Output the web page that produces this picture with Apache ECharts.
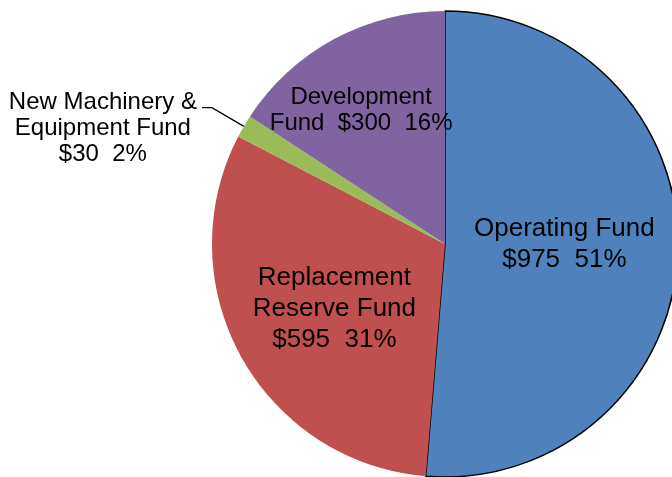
<!DOCTYPE html>
<html>
<head>
<meta charset="utf-8">
<script src="https://cdn.jsdelivr.net/npm/echarts@6/dist/echarts.min.js"></script>
<style>
  html, body { margin: 0; padding: 0; background: #fff; }
  #chart { width: 672px; height: 477px; }
</style>
</head>
<body>
<div id="chart"></div>
<script>
// fund names and amounts ($)
var names = ['Operating Fund', 'Replacement Reserve Fund', 'New Machinery & Equipment Fund', 'Development Fund'];
var amounts = [975, 595, 30, 300];
var percents = [51, 31, 2, 16];
// text lines as printed on the slices
var labelLines = [
  ['Operating Fund'],
  ['Replacement', 'Reserve Fund'],
  ['New Machinery &', 'Equipment Fund'],
  ['Development', 'Fund']
];
var colors = ['#4F81BD', '#C0504D', '#9BBB59', '#8064A2'];

var font = "'Liberation Sans', Arial, sans-serif";

// label sizes and nudges (dx, dy) per slice
var fontSizes = [26, 26, 24, 24];
var lineHeights = [31, 31, 26, 26];
var nudge = [[0, -5], [-6, 7], [0, 0], [-27, -29]];

var myChart = echarts.init(document.getElementById('chart'));

var data = names.map(function (n, i) {
  var item = {
    name: n,
    value: amounts[i],
    itemStyle: { color: colors[i] },
    label: { fontSize: fontSizes[i], lineHeight: lineHeights[i] }
  };
  if (i === 0) {
    item.itemStyle.borderColor = '#000';
    item.itemStyle.borderWidth = 1.5;
  }
  if (i === 2) {
    item.label = {
      position: 'outside',
      padding: [42, 0, 0, 0],
      formatter: function (p) {
        var l = labelLines[p.dataIndex];
        return '{a|' + l[0] + '}\n{a|' + l[1] + '}\n{a|$' + amounts[p.dataIndex] + '  ' + percents[p.dataIndex] + '%}';
      },
      rich: {
        a: { align: 'center', fontSize: fontSizes[i], lineHeight: lineHeights[i], fontFamily: font, color: '#000' }
      }
    };
    item.labelLine = {
      show: true,
      length: 37,
      length2: 10,
      lineStyle: { color: '#000', width: 1.3 }
    };
  }
  return item;
});

var option = {
  animation: false,
  backgroundColor: '#fff',
  series: [{
    type: 'pie',
    center: [445, 244],
    radius: 233,
    startAngle: 90,
    clockwise: true,
    avoidLabelOverlap: false,
    label: {
      show: true,
      position: 'inside',
      color: '#000',
      fontFamily: font,
      formatter: function (p) {
        var i = p.dataIndex;
        var l = labelLines[i];
        var tail = '$' + amounts[i] + '  ' + percents[i] + '%';
        if (i === 3) {
          return l[0] + '\n' + l[1] + '  ' + tail;
        }
        return l.join('\n') + '\n' + tail;
      }
    },
    labelLine: { show: false },
    labelLayout: function (p) {
      var n = nudge[p.dataIndex];
      return { dx: n[0], dy: n[1] };
    },
    emphasis: { disabled: true },
    data: data
  }]
};

myChart.setOption(option);
</script>
</body>
</html>
